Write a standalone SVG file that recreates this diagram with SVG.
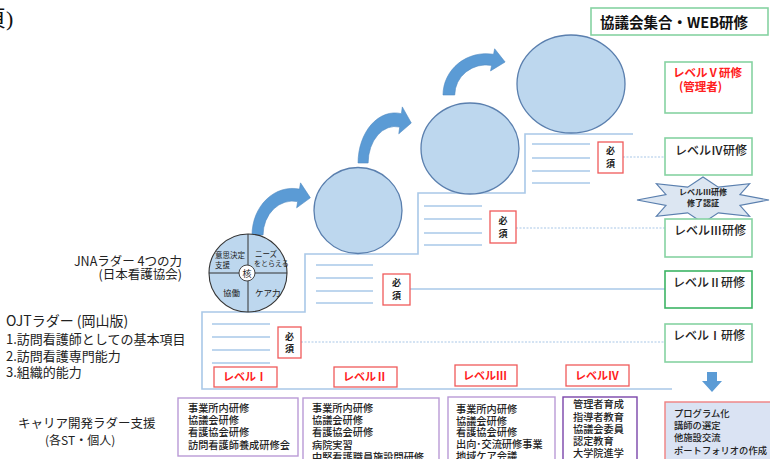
<svg xmlns="http://www.w3.org/2000/svg" width="770" height="459" viewBox="0 0 770 459">
<defs>
<style>
text{font-family:"Noto Sans CJK JP","Noto Sans",sans-serif;fill:#222}
.stair{fill:none;stroke:#a9c8e8;stroke-width:1.6}
.short{stroke:#a9c8e8;stroke-width:1.6}
.dot{stroke:#a9c8e8;stroke-width:1.2;stroke-dasharray:2 1.5}
.sol{stroke:#a9c8e8;stroke-width:1.4}
.ball{fill:#bdd7ee;stroke:#5a7fae;stroke-width:1.3}
.arc{fill:#5b9bd5;stroke:#4f89c0;stroke-width:0.6}
.must{fill:#fff;stroke:#f05a5a;stroke-width:1.3}
.must-t{font-size:9px;font-weight:700;text-anchor:middle}
.lvl{fill:#fff;stroke:#f05a5a;stroke-width:1.3}
.lvl-t{font-size:11px;font-weight:700;fill:#ff2020}
.gbox{fill:#fff;stroke:#86d3a2;stroke-width:1.6}
.gt{font-size:12px;font-weight:500}
.pbox{fill:#fff;stroke:#b99ad6;stroke-width:1.4}
.bt{font-size:10.2px;font-weight:500}
.bt5{font-size:9.3px;font-weight:500}
.pie{font-size:7.5px}
</style>
<path id="carc" d="M -4,0 A 44 44 0 0 1 47.6,-43.3 L 48.7,-49.2 L 59.4,-35.1 L 44.5,-25.6 L 45.6,-31.5 A 32 32 0 0 0 8,0 Z"/>
</defs>

<text x="-16" y="26" style="font-family:'Liberation Serif','Noto Sans CJK JP',serif;font-size:22px;fill:#111">頁)</text>

<g id="connectors">
<path class="stair" d="M 633,134 L 525,134 L 525,193 L 418,193 L 418,254 L 305,254 L 305,312 L 202,312 L 202,389 L 672,389"/>
<line class="dot" x1="301" y1="342" x2="665" y2="342"/>
<line class="sol" x1="410" y1="289" x2="665" y2="289"/>
<line class="dot" x1="516" y1="228" x2="665" y2="228"/>
<line class="dot" x1="623" y1="157" x2="665" y2="157"/>
</g>

<g id="step-lines">
<line class="short" x1="212" y1="324" x2="270" y2="324"/>
<line class="short" x1="212" y1="337" x2="270" y2="337"/>
<line class="short" x1="212" y1="350" x2="270" y2="350"/>
<line class="short" x1="212" y1="363" x2="270" y2="363"/>
<line class="short" x1="316" y1="265" x2="373" y2="265"/>
<line class="short" x1="316" y1="278" x2="373" y2="278"/>
<line class="short" x1="316" y1="291" x2="373" y2="291"/>
<line class="short" x1="316" y1="303" x2="373" y2="303"/>
<line class="short" x1="424" y1="206" x2="482" y2="206"/>
<line class="short" x1="424" y1="219" x2="482" y2="219"/>
<line class="short" x1="424" y1="233" x2="482" y2="233"/>
<line class="short" x1="424" y1="245" x2="482" y2="245"/>
<line class="short" x1="532" y1="144" x2="590" y2="144"/>
<line class="short" x1="532" y1="158" x2="590" y2="158"/>
<line class="short" x1="532" y1="171" x2="590" y2="171"/>
<line class="short" x1="532" y1="183" x2="590" y2="183"/>
</g>

<g id="arrows">
<use href="#carc" class="arc" transform="translate(255.7,235) scale(0.92,1.06)"/>
<use href="#carc" class="arc" transform="translate(361.4,163) scale(0.84,1.14)"/>
<use href="#carc" class="arc" transform="translate(446.9,95) scale(0.98,0.94)"/>
<path d="M 707,372 L 717,372 L 717,381 L 722,381 L 712,392 L 702,381 L 707,381 Z" fill="#5b9bd5"/>
</g>

<g id="pie">
<circle cx="248" cy="273" r="39" fill="#bdd7ee" stroke="#333" stroke-width="1.1"/>
<line x1="248" y1="234" x2="248" y2="312" stroke="#333" stroke-width="1"/>
<line x1="209" y1="273" x2="287" y2="273" stroke="#333" stroke-width="1"/>
<circle cx="247" cy="273" r="8" fill="#fff" stroke="#333" stroke-width="0.9"/>
<text x="247" y="276.5" class="pie" style="font-size:9px" text-anchor="middle">核</text>
<text x="215" y="258" class="pie">意思決定</text>
<text x="215" y="268" class="pie">支援</text>
<text x="255" y="257" class="pie">ニーズ</text>
<text x="254" y="266" class="pie" style="font-size:7px">をとらえる</text>
<text x="223" y="296" class="pie" style="font-size:8.5px">協働</text>
<text x="255" y="296" class="pie" style="font-size:8.5px">ケア力</text>
</g>

<g id="circles">
<ellipse class="ball" cx="358" cy="210.5" rx="44" ry="43"/>
<ellipse class="ball" cx="470" cy="148.5" rx="49" ry="45.5"/>
<ellipse class="ball" cx="571" cy="84" rx="54" ry="49"/>
</g>

<g id="must-boxes">
<rect class="must" x="278" y="327" width="23" height="31"/>
<text class="must-t" x="289.5" y="340">必</text><text class="must-t" x="289.5" y="352">須</text>
<rect class="must" x="383" y="274" width="27" height="31"/>
<text class="must-t" x="396.5" y="286">必</text><text class="must-t" x="396.5" y="299">須</text>
<rect class="must" x="490" y="211" width="26" height="32"/>
<text class="must-t" x="503" y="224">必</text><text class="must-t" x="503" y="237">須</text>
<rect class="must" x="598" y="142" width="25" height="31"/>
<text class="must-t" x="610.5" y="154">必</text><text class="must-t" x="610.5" y="167">須</text>
</g>

<g id="level-labels">
<rect class="lvl" x="214" y="367" width="63" height="20"/>
<text class="lvl-t" x="223" y="381">レベルⅠ</text>
<rect class="lvl" x="334" y="367" width="63" height="20"/>
<text class="lvl-t" x="343" y="381">レベルⅡ</text>
<rect class="lvl" x="455" y="365" width="62" height="21"/>
<text class="lvl-t" x="463" y="380">レベルⅢ</text>
<rect class="lvl" x="566" y="365" width="63" height="21"/>
<text class="lvl-t" x="575" y="380">レベルⅣ</text>
</g>

<g id="right-column">
<rect class="gbox" x="591" y="8" width="177" height="27"/>
<text x="600" y="28" style="font-size:14.5px;font-weight:700;fill:#111">協議会集合・WEB研修</text>
<rect class="gbox" x="665" y="62" width="87" height="51"/>
<text x="673" y="77" style="font-size:11.5px;font-weight:700;fill:#ff2020">レベルⅤ研修</text>
<text x="679" y="91" style="font-size:11.5px;font-weight:700;fill:#ff2020">(管理者)</text>
<rect class="gbox" x="665" y="138" width="87" height="37"/>
<text class="gt" x="675" y="155">レベルⅣ研修</text>
<polygon points="769,200 739.9,194.6 749.7,183.7 718.3,187.1 703,177 687.7,187.1 656.3,183.7 666,194.6 637,200 666,205.4 656.3,216.3 687.7,212.9 703,223 718.3,212.9 749.7,216.3 739.9,205.4" fill="#dce6f2" stroke="#5a7fae" stroke-width="1.1"/>
<text x="703" y="195" text-anchor="middle" style="font-size:8px;font-weight:700">レベルⅢ研修</text>
<text x="703" y="206" text-anchor="middle" style="font-size:8px;font-weight:700">修了認証</text>
<rect class="gbox" x="665" y="219" width="87" height="38"/>
<text class="gt" x="674" y="235">レベルⅢ研修</text>
<rect class="gbox" x="665" y="271" width="87" height="37" style="stroke:#3cb464"/>
<text class="gt" x="673" y="287">レベルⅡ研修</text>
<rect class="gbox" x="665" y="324" width="87" height="38"/>
<text class="gt" x="673" y="340">レベルⅠ研修</text>
</g>

<g id="left-labels">
<text x="182" y="266" text-anchor="end" style="font-size:12.5px">JNAラダー 4つの力</text>
<text x="182" y="279" text-anchor="end" style="font-size:12.5px">(日本看護協会)</text>
<text x="6" y="326" style="font-size:14px">OJTラダー (岡山版)</text>
<text x="6" y="344" style="font-size:13px">1.訪問看護師としての基本項目</text>
<text x="6" y="361" style="font-size:13px">2.訪問看護専門能力</text>
<text x="6" y="377" style="font-size:13px">3.組織的能力</text>
<text x="18" y="428" style="font-size:12.5px">キャリア開発ラダー支援</text>
<text x="45" y="445" style="font-size:12px">(各ST・個人)</text>
</g>

<g id="bottom-boxes">
<rect class="pbox" x="178" y="398" width="120" height="58"/>
<text class="bt" x="188" y="412">事業所内研修</text>
<text class="bt" x="188" y="424">協議会研修</text>
<text class="bt" x="188" y="436">看護協会研修</text>
<text class="bt" x="188" y="449">訪問看護師養成研修会</text>
<rect class="pbox" x="303" y="398" width="136" height="70"/>
<text class="bt" x="312" y="412">事業所内研修</text>
<text class="bt" x="312" y="424">協議会研修</text>
<text class="bt" x="312" y="436">看護協会研修</text>
<text class="bt" x="312" y="449">病院実習</text>
<text class="bt" x="312" y="461">中堅看護職員施設間研修</text>
<rect class="pbox" x="448" y="397" width="107" height="70"/>
<text class="bt" x="456" y="413">事業所内研修</text>
<text class="bt" x="456" y="425">協議会研修</text>
<text class="bt" x="456" y="436">看護協会研修</text>
<text class="bt" x="456" y="448">出向･交流研修事業</text>
<text class="bt" x="456" y="460">地域ケア会議</text>
<rect class="pbox" x="563" y="397" width="74" height="70" style="stroke:#7a45aa"/>
<text class="bt" x="573" y="408">管理者育成</text>
<text class="bt" x="573" y="421">指導者教育</text>
<text class="bt" x="573" y="433">協議会委員</text>
<text class="bt" x="573" y="445">認定教育</text>
<text class="bt" x="573" y="457">大学院進学</text>
<rect x="665" y="402" width="115" height="70" fill="#dae3f3" stroke="#f08080" stroke-width="1.4"/>
<text class="bt5" x="674" y="417">プログラム化</text>
<text class="bt5" x="674" y="429">講師の選定</text>
<text class="bt5" x="674" y="441">他施設交流</text>
<text class="bt5" x="674" y="454">ポートフォリオの作成</text>
</g>
</svg>
